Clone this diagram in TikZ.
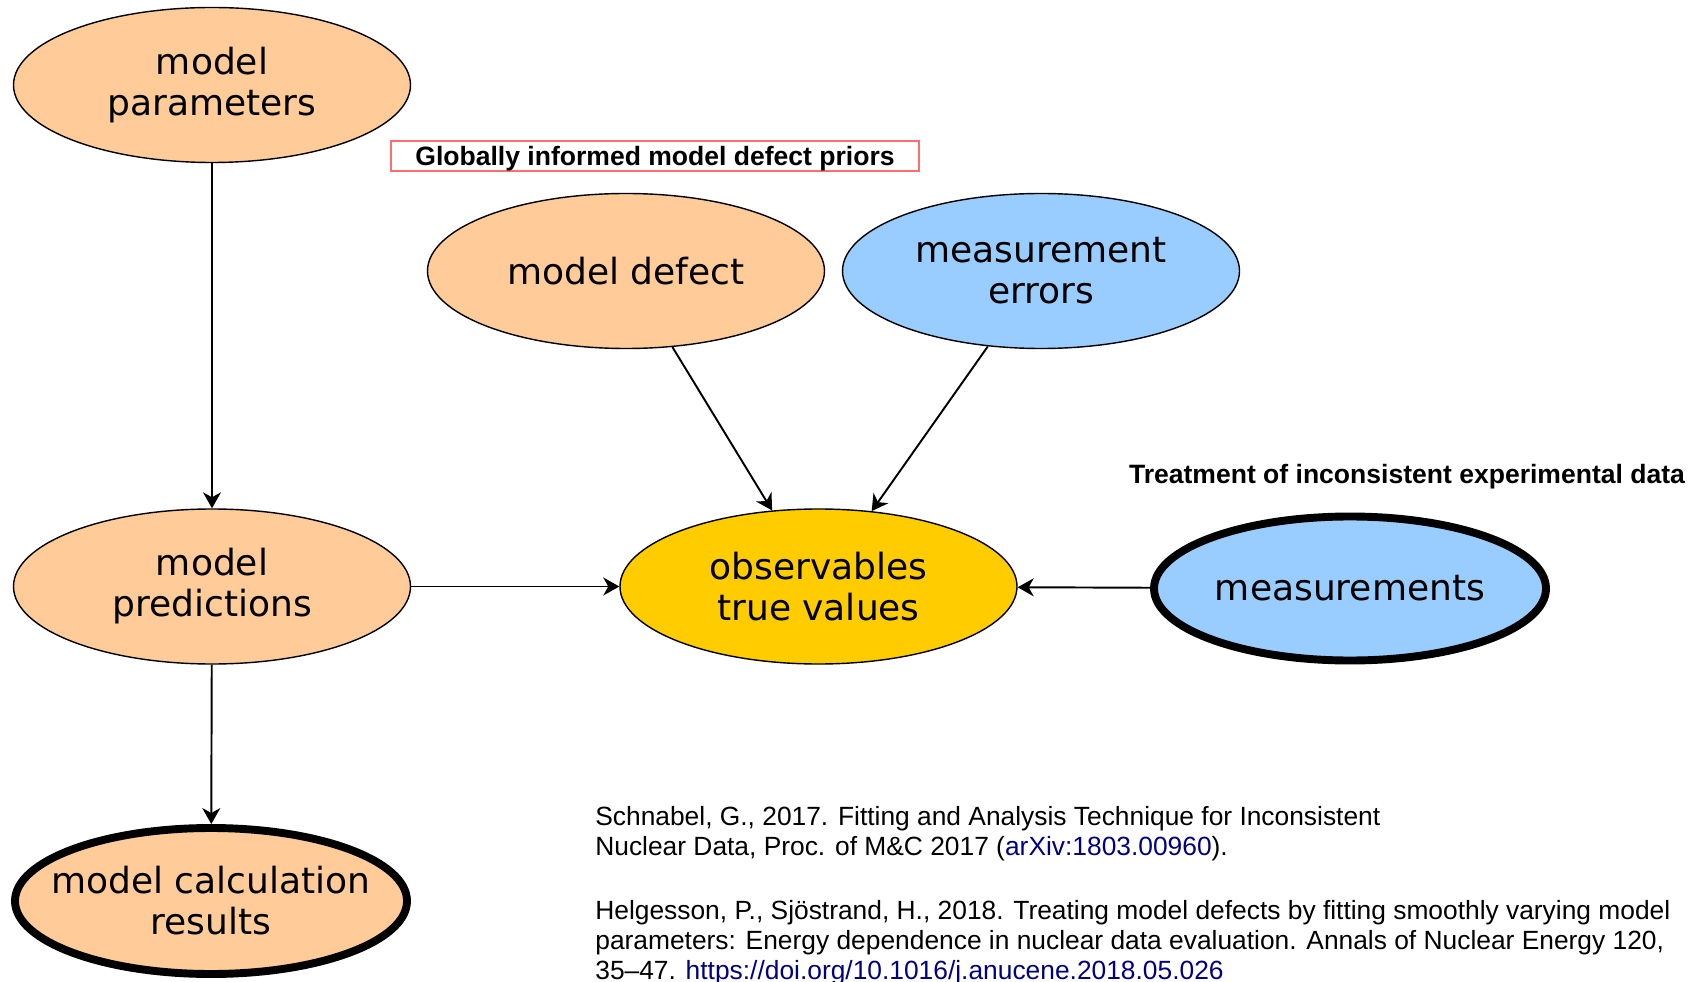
\documentclass[tikz,border=0pt]{standalone}
\usepackage{fontspec}
\usepackage{xcolor}
\usepackage{tikz}
\usetikzlibrary{shapes.geometric, arrows.meta, positioning}
\setmainfont{Liberation Sans}
\newfontfamily\dejavu{DejaVu Sans}
\definecolor{peach}{RGB}{255,204,153}
\definecolor{skyblue}{RGB}{153,204,255}
\definecolor{gold}{RGB}{255,204,0}
\definecolor{linkblue}{RGB}{0,0,128}
\definecolor{boxred}{RGB}{255,110,110}

\begin{document}
\begin{tikzpicture}[
    bubble/.style={ellipse, draw=black, line width=0.8pt, minimum width=7.94cm, minimum height=3.1cm, inner sep=0pt, text centered, align=center, font=\dejavu\fontsize{20.5}{23.3}\selectfont},
    model/.style={bubble, fill=peach},
    data/.style={bubble, fill=skyblue},
    truth/.style={bubble, fill=gold},
    final/.style={line width=4.5pt, minimum width=7.84cm, minimum height=2.92cm, inner xsep=-0.5cm},
    heading/.style={font=\bfseries\fontsize{15.1}{18}\selectfont, inner sep=0pt},
    refs/.style={anchor=base west, align=left, inner sep=0pt, font=\fontsize{15}{16.8}\selectfont},
    arrow/.style={-{Stealth[length=0.32cm, width=0.36cm, inset=0.1cm]}, line width=1.1pt}
]
\useasboundingbox (0,0) rectangle (34.1,19.62);

% Model side
\node[model] (params) at (4.24,17.92) {model\\ parameters};
\node[model] (preds) at (4.24,7.89) {model\\ predictions};
\node[model, final] (results) at (4.22,1.6) {model calculation\\ results};

% Defect and errors
\node[model] (defect) at (12.52,14.2) {model defect};
\node[data] (errors) at (20.82,14.2) {measurement\\ errors};

% Observables and data
\node[truth] (obs) at (16.37,7.89) {observables\\ true values};
\node[data, final, minimum height=2.88cm] (meas) at (27.0,7.85) {measurements};

% Headings
\node[heading, draw=boxred, line width=0.6pt, text depth=0pt, minimum width=10.56cm, minimum height=0.6cm] (priors) at (13.1,16.5) {Globally informed model defect priors};
\node[heading] (treatment) at (28.14,10.08) {Treatment of inconsistent experimental data};

% References
\node[refs] (schnabel) at (11.9,2.52) {Schnabel, G., 2017. Fitting and Analysis Technique for Inconsistent\\ Nuclear Data, Proc. of M\&C 2017 (\textcolor{linkblue}{arXiv:1803.00960}).};
\node[refs] (helgesson) at (11.9,0.04) {Helgesson, P., Sjöstrand, H., 2018. Treating model defects by fitting smoothly varying model\\ parameters: Energy dependence in nuclear data evaluation. Annals of Nuclear Energy 120,\\ 35--47. \textcolor{linkblue}{https://doi.org/10.1016/j.anucene.2018.05.026}};

% Arrows
\draw[arrow] (params) -- (preds);
\draw[arrow] (preds) -- (results);
\draw[arrow] (preds) -- (obs);
\draw[arrow] (defect) -- (obs);
\draw[arrow] (errors) -- (obs);
\draw[arrow] (meas) -- (obs);

\end{tikzpicture}
\end{document}
